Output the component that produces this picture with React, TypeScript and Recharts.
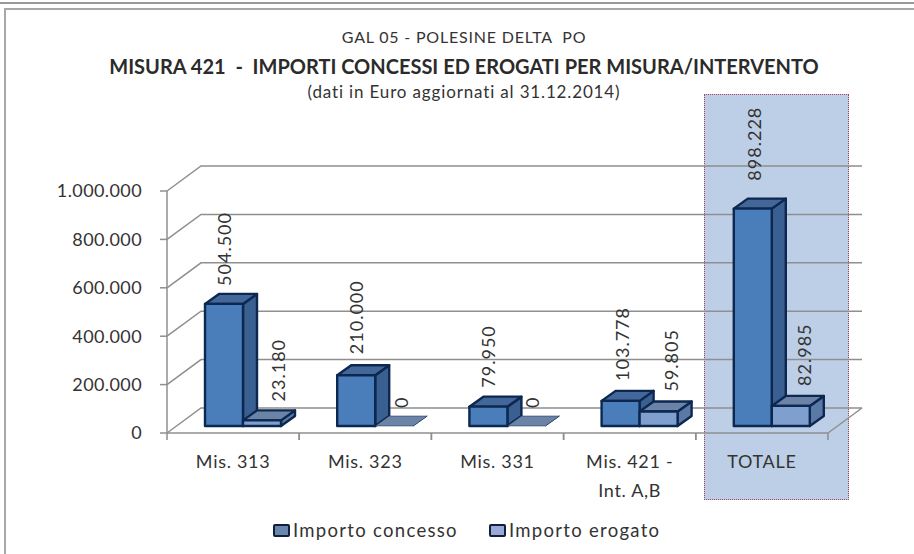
import { Bar, BarChart, CartesianGrid, LabelList, Legend, XAxis, YAxis } from 'recharts';

const categories = ['Mis. 313', 'Mis. 323', 'Mis. 331', 'Mis. 421 -\nInt. A,B', 'TOTALE'];
const importoConcesso = [504500, 210000, 79950, 103778, 898228];
const importoErogato = [23180, 0, 0, 59805, 82985];
const yTicks = [0, 200000, 400000, 600000, 800000, 1000000];

// hand placed labels in the original: [shift right, gap above the bar]
const concessoLabelPlacement = [[0, 18], [0, 21], [0, 19], [1, 20], [1, 28]];
const erogatoLabelPlacement = [[16, 19], [7, 18], [6, 18], [12, 20], [13, 20]];

const chartData = categories.map((name, i) => ({
  name,
  concesso: importoConcesso[i],
  erogato: importoErogato[i],
}));

const FONT = 'Lato, sans-serif';
const TEXT = '#333';
const GRID = '#8f8f8f';
const PLOT_WIDTH = 661;
// 3D look: back wall offset and bar depth
const WALL = { dx: 34, dy: -25 };
const BAR_SHIFT = { dx: 10, dy: -7 };
const DEPTH = { dx: 14, dy: -10 };

const formatThousands = (v: number) => String(v).replace(/\B(?=(\d{3})+(?!\d))/g, '.');

function WallLine({ x1, y1, x2, index }: any) {
  const backY = y1 + WALL.dy;
  return (
    <g key={index} fill="none" stroke={GRID} strokeWidth={1.5}>
      <path d={`M${x1},${y1}L${x1 + WALL.dx},${backY}L${x2 + WALL.dx},${backY}`} />
      {index === 0 && <path d={`M${x2},${y1}L${x2 + WALL.dx},${backY}`} />}
    </g>
  );
}

function makeBox(front: string, side: string, top: string) {
  return function Box({ x, y, width, height }: any) {
    const left = x + BAR_SHIFT.dx;
    const right = left + width;
    const up = y + BAR_SHIFT.dy;
    const bottom = up + height;
    const line = { stroke: '#0c2850', strokeWidth: height > 0 ? 2.4 : 0.5, strokeLinejoin: 'round' as const };
    return (
      <g>
        <path
          d={`M${right},${up}L${right + DEPTH.dx},${up + DEPTH.dy}L${right + DEPTH.dx},${bottom + DEPTH.dy}L${right},${bottom}Z`}
          fill={side}
          {...line}
        />
        <path
          d={`M${left},${up}L${left + DEPTH.dx},${up + DEPTH.dy}L${right + DEPTH.dx},${up + DEPTH.dy}L${right},${up}Z`}
          fill={top}
          {...line}
        />
        {height > 0 && <rect x={left} y={up} width={width} height={height} fill={front} {...line} />}
      </g>
    );
  };
}

function makeValueLabel(placement: number[][]) {
  return function ValueLabel({ x, y, width, value, index }: any) {
    const [shift, gap] = placement[index];
    const cx = x + BAR_SHIFT.dx + width / 2 + shift;
    const cy = y + BAR_SHIFT.dy - gap;
    return (
      <text
        x={cx}
        y={cy}
        transform={`rotate(-90 ${cx} ${cy})`}
        textAnchor="start"
        dominantBaseline="central"
        fontFamily={FONT}
        fontSize={18}
        letterSpacing={1}
        fill={TEXT}
      >
        {formatThousands(value)}
      </text>
    );
  };
}

function CategoryTick({ x, y, payload }: any) {
  const half = PLOT_WIDTH / categories.length / 2;
  const lines = String(payload.value).split('\n');
  return (
    <g>
      <path d={`M${x - half},${y}v7M${x + half},${y}v7`} stroke={GRID} strokeWidth={1.5} />
      {lines.map((line, i) => (
        <text
          key={line}
          x={x}
          y={y + 35 + i * 29}
          textAnchor="middle"
          fontFamily={FONT}
          fontSize={18}
          letterSpacing={0.7}
          fill={TEXT}
        >
          {line}
        </text>
      ))}
    </g>
  );
}

function LegendRow({ payload }: any) {
  return (
    <div style={{ display: 'flex', fontFamily: FONT, fontSize: 18.5, letterSpacing: 1.3, color: TEXT, whiteSpace: 'nowrap' }}>
      {(payload || []).map((entry: any, i: number) => (
        <div key={entry.value} style={{ display: 'flex', alignItems: 'center', marginLeft: i ? 31 : 0 }}>
          <span
            style={{
              width: 13,
              height: 9,
              background: i ? '#9aa8d8' : '#6a86ad',
              border: '2.5px solid #101f3a',
              borderRadius: 2,
              marginRight: 3,
            }}
          />
          {entry.value}
        </div>
      ))}
    </div>
  );
}

const titleBase = {
  position: 'absolute' as const,
  left: 64,
  width: 800,
  textAlign: 'center' as const,
  fontFamily: FONT,
  color: '#333',
  whiteSpace: 'pre' as const,
};

export default function App() {
  return (
    <div style={{ position: 'absolute', left: 0, top: 0, width: 914, height: 554, background: '#fff', overflow: 'hidden' }}>
      <div style={{ position: 'absolute', left: 0, top: 2, width: 914, height: 2, background: '#999' }} />
      <div style={{ position: 'absolute', left: 4, top: 8, width: 910, height: 546, borderTop: '2px solid #a8a8a8', borderLeft: '2px solid #a8a8a8', boxSizing: 'border-box' }} />
      <div style={{ position: 'absolute', left: 704, top: 94, width: 145, height: 406, background: '#bdcfe6', border: '1px dotted #a8425e', boxSizing: 'border-box' }} />

      <div style={{ ...titleBase, top: 27, fontSize: 16, letterSpacing: 0.8 }}>GAL 05 - POLESINE DELTA  PO</div>
      <div style={{ ...titleBase, top: 54, fontSize: 20, fontWeight: 700, color: '#2b2b2b' }}>
        MISURA 421  -  IMPORTI CONCESSI ED EROGATI PER MISURA/INTERVENTO
      </div>
      <div style={{ ...titleBase, top: 81, fontSize: 17, letterSpacing: 0.85 }}>(dati in Euro aggiornati al 31.12.2014)</div>

      <div style={{ position: 'absolute', left: 0, top: 0 }}>
        <BarChart
          width={914}
          height={554}
          data={chartData}
          margin={{ top: 191, right: 86, bottom: 41, left: 40 }}
          barCategoryGap={28}
          barGap={0}
        >
          <CartesianGrid vertical={false} horizontal={(props: any) => <WallLine {...props} />} />
          <XAxis
            dataKey="name"
            height={80}
            interval={0}
            axisLine={{ stroke: GRID, strokeWidth: 1.5 }}
            tickLine={false}
            tickSize={0}
            tickMargin={0}
            tick={(props: any) => <CategoryTick {...props} />}
          />
          <YAxis
            width={127}
            domain={[0, 1000000]}
            ticks={yTicks}
            tickFormatter={formatThousands}
            axisLine={{ stroke: GRID, strokeWidth: 1.5 }}
            tickLine={{ stroke: GRID, strokeWidth: 1.5 }}
            tickSize={7}
            tickMargin={18}
            tick={{ fontFamily: FONT, fontSize: 18, letterSpacing: 0.4, fill: TEXT }}
          />
          <Bar
            dataKey="concesso"
            name="Importo concesso"
            fill="#4a7ebb"
            isAnimationActive={false}
            shape={makeBox('#4a7ebb', '#3a5f91', '#44679a')}
          >
            <LabelList dataKey="concesso" content={makeValueLabel(concessoLabelPlacement)} />
          </Bar>
          <Bar
            dataKey="erogato"
            name="Importo erogato"
            fill="#7f9fcf"
            isAnimationActive={false}
            shape={makeBox('#7f9fcf', '#5a7aa5', '#6b83a6')}
          >
            <LabelList dataKey="erogato" content={makeValueLabel(erogatoLabelPlacement)} />
          </Bar>
          <Legend
            verticalAlign="middle"
            content={(props: any) => <LegendRow {...props} />}
            wrapperStyle={{ position: 'absolute', left: 273, top: 519, width: 'auto' }}
          />
        </BarChart>
      </div>
    </div>
  );
}
